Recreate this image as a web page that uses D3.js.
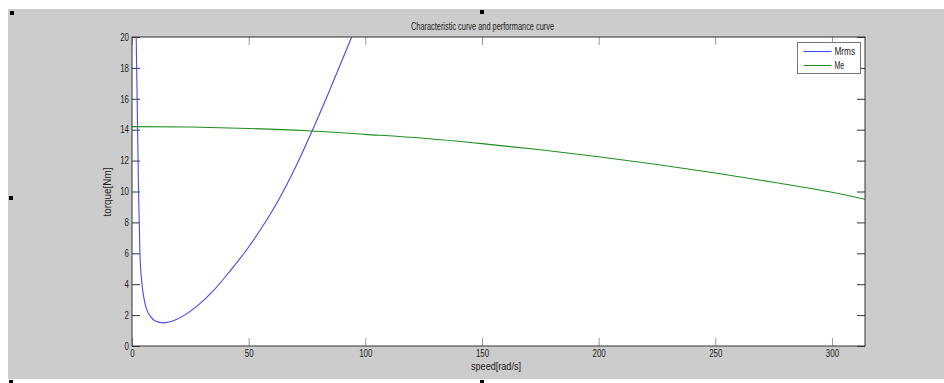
<!DOCTYPE html>
<html>
<head>
  <meta charset="UTF-8">
  <title>Characteristic curve and performance curve</title>
  <style>
    body { margin: 0; background: #fff; }
    text { font-family: "Liberation Sans", Arial, sans-serif; fill: #222; }
    .line { fill: none; stroke-width: 1.1px; }
  </style>
</head>
<body>
  <svg width="944" height="383" id="chart"></svg>
  <script src="https://d3js.org/d3.v7.min.js"></script>
  <script>
    // values
    var mrmsSpeed  = [1.5, 1.8, 2.1, 2.4, 2.8, 3.4, 4.3, 5.0, 6.0, 8.0, 10, 13.5, 18, 22, 28, 35, 42, 49, 56, 63, 70, 77, 84, 91, 95, 98];
    var mrmsTorque = [25, 20, 17, 14, 10, 6, 4, 3.2, 2.5, 1.9, 1.62, 1.5, 1.65, 1.95, 2.6, 3.6, 4.85, 6.2, 7.75, 9.5, 11.55, 13.85, 16.3, 18.85, 20.3, 21.4];
    var meSpeed  = [0, 25, 50, 75, 100, 125, 150, 175, 200, 225, 250, 275, 300, 314.16];
    var meTorque = [14.2, 14.17, 14.08, 13.93, 13.7, 13.45, 13.1, 12.7, 12.25, 11.75, 11.2, 10.6, 9.95, 9.5];
    var xTicks = [0, 50, 100, 150, 200, 250, 300];
    var yTicks = [0, 2, 4, 6, 8, 10, 12, 14, 16, 18, 20];
    var seriesNames = ["Mrms", "Me"];
    var seriesColors = ["#4848ff", "#1f8f1f"];

    var svg = d3.select("#chart");

    // grey figure background
    svg.append("rect").attr("x", 8).attr("y", 9).attr("width", 936).attr("height", 370).attr("fill", "#cccccc");

    // selection handles
    [[10, 11], [480, 10], [9, 196], [9, 380], [480, 380]].forEach(function (p) {
      svg.append("rect").attr("x", p[0]).attr("y", p[1]).attr("width", 4).attr("height", 4).attr("fill", "#000");
    });

    var margin = { left: 132, top: 37, right: 865, bottom: 346 };
    var width = margin.right - margin.left, height = margin.bottom - margin.top;

    var x = d3.scaleLinear().domain([0, 314.16]).range([0, width]);
    var y = d3.scaleLinear().domain([0, 20]).range([height, 0]);

    var g = svg.append("g").attr("transform", "translate(" + margin.left + "," + margin.top + ")");

    g.append("rect").attr("width", width).attr("height", height).attr("fill", "#fff");

    g.append("defs").append("clipPath").attr("id", "clip")
      .append("rect").attr("width", width).attr("height", height);

    // axes with inward ticks (MATLAB style)
    function styleAxis(sel, color) {
      sel.select(".domain").remove();
      sel.selectAll(".tick line").attr("stroke", color);
    }
    var xb = g.append("g").attr("transform", "translate(0," + height + ")")
      .call(d3.axisBottom(x).tickValues(xTicks).tickSizeInner(-8).tickSizeOuter(0).tickPadding(3));
    styleAxis(xb, "#999");
    xb.selectAll("text").attr("font-size", 10).attr("dy", "0.75em");
    var xt = g.append("g")
      .call(d3.axisTop(x).tickValues(xTicks).tickSizeInner(-8).tickSizeOuter(0).tickFormat(""));
    styleAxis(xt, "#999");
    var yl = g.append("g")
      .call(d3.axisLeft(y).tickValues(yTicks).tickSizeInner(-8).tickSizeOuter(0).tickPadding(3));
    styleAxis(yl, "#333");
    yl.selectAll("text").attr("font-size", 10);
    var yr = g.append("g").attr("transform", "translate(" + width + ",0)")
      .call(d3.axisRight(y).tickValues(yTicks).tickSizeInner(-8).tickSizeOuter(0).tickFormat(""));
    styleAxis(yr, "#333");

    // condense tick labels like the reference font
    g.selectAll(".tick text").each(function () {
      var t = d3.select(this);
      var n = t.text().length;
      if (n) t.attr("textLength", n * 4.4).attr("lengthAdjust", "spacingAndGlyphs");
    });

    // lines
    var line = d3.line().curve(d3.curveMonotoneX)
      .x(function (d) { return x(d[0]); })
      .y(function (d) { return y(d[1]); });

    var series = [
      d3.zip(mrmsSpeed, mrmsTorque),
      d3.zip(meSpeed, meTorque)
    ];
    g.append("g").attr("clip-path", "url(#clip)")
      .selectAll("path").data(series).enter().append("path")
      .attr("class", "line")
      .attr("stroke", function (d, i) { return seriesColors[i]; })
      .attr("d", line);

    // frame
    g.append("rect").attr("width", width).attr("height", height)
      .attr("fill", "none").attr("stroke", "#333").attr("stroke-width", 1);

    // legend
    var lg = svg.append("g").attr("transform", "translate(797.5,42.5)");
    lg.append("rect").attr("width", 63).attr("height", 31).attr("fill", "#fff").attr("stroke", "#777");
    seriesNames.forEach(function (name, i) {
      lg.append("line").attr("x1", 6).attr("x2", 34).attr("y1", 9 + i * 14).attr("y2", 9 + i * 14)
        .attr("stroke", seriesColors[i]).attr("stroke-width", 1.1);
      lg.append("text").attr("x", 37).attr("y", 9 + i * 14).attr("dy", "0.35em")
        .attr("font-size", 10).attr("textLength", name.length * 5.4 - 1).attr("lengthAdjust", "spacingAndGlyphs")
        .text(name);
    });

    // titles
    svg.append("text").attr("x", 482.5).attr("y", 29.5).attr("text-anchor", "middle")
      .attr("font-size", 10).attr("textLength", 143).attr("lengthAdjust", "spacingAndGlyphs")
      .text("Characteristic curve and performance curve");
    svg.append("text").attr("x", 496).attr("y", 369.5).attr("text-anchor", "middle")
      .attr("font-size", 10).attr("textLength", 50).attr("lengthAdjust", "spacingAndGlyphs")
      .text("speed[rad/s]");
    svg.append("text").attr("transform", "translate(111,192) rotate(-90)").attr("text-anchor", "middle")
      .attr("font-size", 10).attr("textLength", 49).attr("lengthAdjust", "spacingAndGlyphs")
      .text("torque[Nm]");
  </script>
</body>
</html>
